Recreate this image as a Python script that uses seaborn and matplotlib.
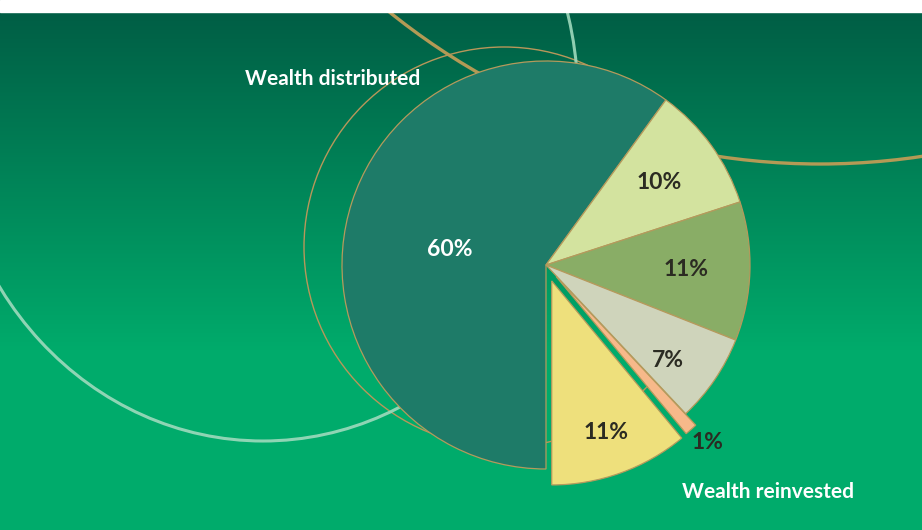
import numpy as np
import matplotlib
matplotlib.use("Agg")
import matplotlib.pyplot as plt
from matplotlib.patches import Circle, Ellipse, Rectangle
from matplotlib.colors import to_rgb
import seaborn as sns

# ---- data ----
shares = [60, 10, 11, 7, 1, 11]
share_labels = ["60%", "10%", "11%", "7%", "1%", "11%"]
group_labels = ["Wealth distributed", "Wealth reinvested"]

# ---- style ----
slice_colors = ["#1e7b68", "#d3e39f", "#89ad66", "#cfd4bb", "#f7b98a", "#eee07c"]
explode_frac = [0, 0, 0, 0, 0.075, 0.083]
label_radius = [0.48, 0.686, 0.686, 0.76, 1.10, 0.79]
label_angle_shift = [9, 0, 0, -3.7, 1, 0]
label_colors = ["white", "#2b2b22", "#2b2b22", "#2b2b22", "#2b2b22", "#2b2b22"]

sns.set_theme(style="white")
plt.rcParams["font.family"] = ["Lato", "DejaVu Sans"]

W, H = 922, 530
fig = plt.figure(figsize=(W / 100, H / 100), dpi=100)
ax = fig.add_axes([0, 0, 1, 1])

# background gradient
top = np.array(to_rgb("#005e45"))
bot = np.array(to_rgb("#00ab6b"))
ys = np.arange(H)  # image rows from top
t = np.clip((ys - 12) / (350 - 12), 0, 1)
grad = top[None, :] * (1 - t[:, None]) + bot[None, :] * t[:, None]
img = np.repeat(grad[:, None, :], 2, axis=1)
ax.imshow(img, extent=(0, W, 0, H), aspect="auto", origin="upper", zorder=0)

# decorative rings
ax.add_patch(Circle((820, H + 522), 686, fill=False, ec="#b39a55", lw=2.4, zorder=1))
ax.add_patch(Circle((504, H - 247), 200, fill=False, ec="#b8975a", lw=1.0, zorder=1))
ax.add_patch(Ellipse((263, H - 100), 630, 682, fill=False, ec="#9fdabd", lw=2.2,
                     alpha=0.9, zorder=1.5))

# pie
cx, cy, R = 546, 265, 204
wedges, _ = ax.pie(shares, colors=sns.color_palette(slice_colors),
                   startangle=270, counterclock=False,
                   explode=[e * R for e in explode_frac],
                   center=(cx, cy), radius=R,
                   wedgeprops=dict(edgecolor="#b59a5c", linewidth=0.9))
for w in wedges:
    w.set_zorder(2)

for w, lab, r, da, col in zip(wedges, share_labels, label_radius,
                              label_angle_shift, label_colors):
    th = np.deg2rad((w.theta1 + w.theta2) / 2 + da)
    x0, y0 = w.center
    ax.text(x0 + r * R * np.cos(th), y0 + r * R * np.sin(th), lab,
            ha="center", va="center", fontsize=16.5, fontweight="bold",
            color=col, zorder=5)

ax.text(333, H - 79, group_labels[0], ha="center", va="center", fontsize=15,
        fontweight="bold", color="white", zorder=5)
ax.text(768, H - 492, group_labels[1], ha="center", va="center", fontsize=15,
        fontweight="bold", color="white", zorder=5)

# white strip at top
ax.add_patch(Rectangle((0, H - 12), W, 12, color="white", zorder=10))

ax.set_xlim(0, W)
ax.set_ylim(0, H)
ax.set_axis_off()
fig.savefig("out.png", dpi=100)
